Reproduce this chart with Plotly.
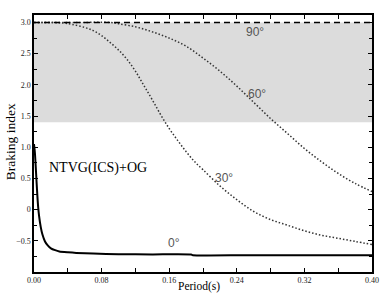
import plotly.graph_objects as go

# 0 degree curve (solid)
p0 = [0.0, 0.001, 0.002, 0.003, 0.004, 0.005, 0.006, 0.008, 0.010, 0.013, 0.016, 0.020, 0.025,
      0.030, 0.040, 0.050, 0.070, 0.100, 0.140, 0.186, 0.188, 0.250, 0.320, 0.400]
v0 = [1.05, 0.92, 0.70, 0.45, 0.22, 0.03, -0.10, -0.28, -0.40, -0.51, -0.57, -0.62, -0.65,
      -0.67, -0.685, -0.695, -0.705, -0.715, -0.718, -0.72, -0.73, -0.73, -0.73, -0.73]

# 30 degree curve (dotted)
p30 = [0.0, 0.02, 0.035, 0.045, 0.06, 0.07, 0.08, 0.09, 0.10, 0.11, 0.12, 0.13, 0.14, 0.15,
       0.16, 0.17, 0.18, 0.19, 0.20, 0.22, 0.24, 0.26, 0.28, 0.30, 0.32, 0.34, 0.36, 0.38, 0.40]
v30 = [3.0, 3.0, 2.99, 2.97, 2.92, 2.87, 2.79, 2.68, 2.56, 2.41, 2.22, 1.99, 1.76, 1.52,
       1.30, 1.11, 0.93, 0.77, 0.64, 0.38, 0.16, -0.03, -0.16, -0.25, -0.34, -0.41, -0.46, -0.51, -0.56]

# 60 degree curve (dotted)
p60 = [0.0, 0.05, 0.09, 0.10, 0.12, 0.14, 0.16, 0.18, 0.20, 0.22, 0.24, 0.26, 0.28, 0.30,
       0.32, 0.34, 0.36, 0.38, 0.40]
v60 = [3.0, 3.0, 3.0, 2.98, 2.93, 2.85, 2.75, 2.62, 2.43, 2.22, 1.98, 1.72, 1.46, 1.22,
       0.98, 0.77, 0.58, 0.42, 0.29]

# 90 degree curve (dashed)
p90 = [0.0, 0.40]
v90 = [3.0, 3.0]

shade_low, shade_high = 1.4, 3.0

labels = ["0°", "30°", "60°", "90°"]
label_x = [0.166, 0.225, 0.264, 0.2615]
label_y = [-0.53, 0.50, 1.85, 2.84]

fig = go.Figure()

fig.add_shape(type="rect", xref="x", yref="y", x0=0, x1=0.4, y0=shade_low, y1=shade_high,
              fillcolor="#dcdcdc", line=dict(width=0), layer="below")

fig.add_trace(go.Scatter(x=p0, y=v0, mode="lines", line=dict(color="black", width=2, shape="spline", smoothing=0.6)))
fig.add_trace(go.Scatter(x=p30, y=v30, mode="lines", line=dict(color="#333333", width=1.5, dash="1.5px,2px", shape="spline")))
fig.add_trace(go.Scatter(x=p60, y=v60, mode="lines", line=dict(color="#333333", width=1.5, dash="1.5px,2px", shape="spline")))
fig.add_trace(go.Scatter(x=p90, y=v90, mode="lines", line=dict(color="black", width=1.6, dash="6px,4px")))

for t, x, y in zip(labels, label_x, label_y):
    fig.add_annotation(x=x, y=y, text=t, showarrow=False,
                       font=dict(family="Liberation Sans", size=12, color="#555555"))

fig.add_annotation(x=0.0757, y=0.66, text="NTVG(ICS)+OG", showarrow=False,
                   font=dict(family="Liberation Serif", size=14, color="black"))

# axis titles
fig.add_annotation(xref="paper", yref="paper", x=0.487, y=0, yshift=-6, text="Period(s)",
                   showarrow=False, xanchor="center", yanchor="top",
                   font=dict(family="Liberation Serif", size=11.5, color="black"))
fig.add_annotation(xref="paper", yref="paper", x=0, xshift=-24, y=0.505, text="Braking index",
                   showarrow=False, textangle=-90, xanchor="center", yanchor="middle",
                   font=dict(family="Liberation Serif", size=13.5, color="black"))

axis_common = dict(showline=True, linecolor="black", linewidth=1.5, mirror="ticks",
                   ticks="inside", ticklen=4, tickwidth=1, tickcolor="black",
                   showgrid=False, zeroline=False, automargin=False,
                   tickfont=dict(family="Liberation Serif", size=8, color="#222222"))

fig.update_xaxes(range=[0, 0.4], tickvals=[0, 0.08, 0.16, 0.24, 0.32, 0.40],
                 ticktext=["0.00", "0.08", "0.16", "0.24", "0.32", "0.40"],
                 ticklabeloverflow="allow",
                 minor=dict(dtick=0.04, ticks="inside", ticklen=4, tickcolor="black"),
                 **axis_common)
fig.update_yaxes(range=[-1.0, 3.12], tickvals=[-0.5, 0, 0.5, 1.0, 1.5, 2.0, 2.5, 3.0],
                 ticktext=["−0.5", "0", "0.5", "1.0", "1.5", "2.0", "2.5", "3.0"],
                 minor=dict(dtick=0.25, ticks="inside", ticklen=3, tickcolor="black"),
                 **axis_common)

fig.update_layout(width=382, height=299, margin=dict(l=34, r=10, t=15, b=27),
                  plot_bgcolor="white", paper_bgcolor="white", showlegend=False)

fig.write_html("out.html", config={"displayModeBar": False},
               post_script="document.body.style.margin='0';document.body.style.padding='0';document.body.style.overflow='hidden';")
